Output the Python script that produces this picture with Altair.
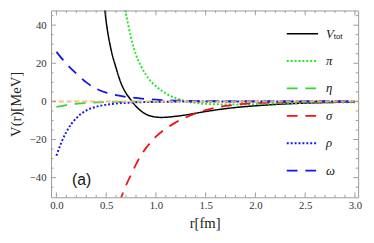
import altair as alt
import pandas as pd

# ---- data ----
r_tot = [0.45, 0.48, 0.5, 0.55, 0.6, 0.65, 0.7, 0.75, 0.8, 0.85, 0.9, 0.95, 1.0, 1.05,
         1.1, 1.2, 1.3, 1.4, 1.5, 1.6, 1.8, 2.0, 2.2, 2.4, 2.6, 2.8, 3.0]
v_tot = [62, 51, 42, 27, 17.5, 9.5, 4.3, 0.7, -2.6, -5.0, -6.7, -7.7, -8.2, -8.4,
         -8.3, -7.8, -7.1, -6.2, -5.3, -4.5, -3.2, -2.3, -1.6, -1.1, -0.75, -0.5, -0.35]

r_pi = [0.65, 0.68, 0.7, 0.75, 0.8, 0.85, 0.9, 0.95, 1.0, 1.05, 1.1, 1.15, 1.2, 1.25,
        1.3, 1.4, 1.5, 1.6, 1.7, 1.8, 2.0, 2.2, 2.5, 2.8, 3.0]
v_pi = [58, 50, 45.5, 33.5, 24.5, 18.5, 14, 10.5, 8, 5.9, 4.2, 2.8, 1.7, 0.8,
        0.1, -0.8, -1.3, -1.5, -1.6, -1.6, -1.4, -1.1, -0.75, -0.5, -0.4]

r_eta = [0, 0.1, 0.2, 0.3, 0.4, 0.5, 0.6, 0.8, 1.0, 1.3, 1.6, 2.0, 2.5, 3.0]
v_eta = [-2.9, -1.9, -1.25, -0.85, -0.55, -0.38, -0.26, -0.13, -0.07, -0.03, -0.01, 0, 0, 0]

r_sigma = [0.63, 0.65, 0.7, 0.75, 0.8, 0.85, 0.9, 0.95, 1.0, 1.1, 1.2, 1.3, 1.4, 1.5,
           1.6, 1.7, 1.8, 2.0, 2.2, 2.5, 2.8, 3.0]
v_sigma = [-53, -50.5, -44, -38.5, -33, -28.3, -24.5, -21.3, -18.5, -14.3, -11.0, -8.4, -6.3, -4.6,
           -3.3, -2.4, -1.7, -0.9, -0.5, -0.2, -0.1, -0.05]

r_rho = [0, 0.05, 0.1, 0.15, 0.2, 0.25, 0.3, 0.4, 0.5, 0.6, 0.7, 0.8, 1.0, 1.2, 1.5, 2.0, 2.5, 3.0]
v_rho = [-28.5, -21.5, -16, -11.8, -8.8, -6.4, -4.8, -2.8, -1.75, -1.1, -0.75, -0.5, -0.25, -0.12,
         -0.05, 0, 0, 0]

r_omega = [0, 0.1, 0.2, 0.3, 0.4, 0.5, 0.6, 0.7, 0.8, 1.0, 1.2, 1.5, 2.0, 2.5, 3.0]
v_omega = [26, 19.8, 14.6, 10.0, 6.7, 4.6, 3.3, 2.4, 1.8, 0.9, 0.45, 0.15, 0.03, 0, 0]

r_zero = [-0.054, 3.033]
v_zero = [0, 0]

x_major = [0.0, 0.5, 1.0, 1.5, 2.0, 2.5, 3.0]
x_minor = [i / 10 for i in range(0, 31) if i % 5 != 0]
y_major = [-40, -20, 0, 20, 40]
y_minor = [-45, -35, -30, -25, -15, -10, -5, 5, 10, 15, 25, 30, 35, 45]

legend_labels = ["V", "π", "η", "σ", "ρ", "ω"]

# ---- layout ----
W, H = 314, 191
xs = alt.Scale(domain=[-0.054, 3.033], nice=False, zero=False)
ys = alt.Scale(domain=[-50.3, 47.7], nice=False, zero=False)
FRAME = "#9a9a9a"
SERIF = "Liberation Serif, Times New Roman, serif"

xaxis = alt.Axis(values=x_major, format=".1f", ticks=False, domain=False, grid=False,
                 labelFont=SERIF, labelFontSize=11, labelColor="#333333", labelPadding=2,
                 labelOverlap=False, labelFlush=False,
                 title="r[fm]", titleFont=SERIF, titleFontSize=15, titleFontWeight="normal",
                 titleColor="#222222", titlePadding=6)
yaxis = alt.Axis(values=y_major, format="d", ticks=False, domain=False, grid=False,
                 labelFont=SERIF, labelFontSize=11, labelColor="#333333", labelPadding=5,
                 title="V(r)[MeV]", titleFont=SERIF, titleFontSize=15, titleFontWeight="normal",
                 titleColor="#222222", titlePadding=6)

X = alt.X("r:Q", scale=xs, axis=xaxis)
Y = alt.Y("v:Q", scale=ys, axis=yaxis)

styles = [
    (r_tot, v_tot, "#000000", [1, 0], 1.5),
    (r_pi, v_pi, "#22e622", [2, 2], 2.0),
    (r_eta, v_eta, "#33d633", [11, 8], 1.8),
    (r_sigma, v_sigma, "#f01414", [11, 8], 1.8),
    (r_rho, v_rho, "#1414f0", [2, 2], 2.0),
    (r_omega, v_omega, "#1414f0", [11, 8], 1.8),
]

layers = []
for rr, vv, col, dash, sw in styles:
    df = pd.DataFrame({"r": rr, "v": vv})
    layers.append(
        alt.Chart(df).mark_line(color=col, strokeDash=dash, strokeWidth=sw, clip=True,
                                interpolate="monotone").encode(x=X, y=Y)
    )

layers.append(
    alt.Chart(pd.DataFrame({"r": r_zero, "v": v_zero})).mark_line(
        color="#f5b27a", strokeDash=[5, 3], strokeWidth=2, opacity=0.9, clip=True
    ).encode(x=X, y=Y)
)

# inward frame ticks
for vals, ln in [(x_major, 5), (x_minor, 2.5)]:
    d = pd.DataFrame({"r": vals})
    layers.append(alt.Chart(d).mark_rule(color=FRAME, strokeWidth=1).encode(
        x=X, y=alt.value(H), y2=alt.value(H - ln)))
    layers.append(alt.Chart(d).mark_rule(color=FRAME, strokeWidth=1).encode(
        x=X, y=alt.value(0), y2=alt.value(ln)))
for vals, ln in [(y_major, 5), (y_minor, 2.5)]:
    d = pd.DataFrame({"v": vals})
    layers.append(alt.Chart(d).mark_rule(color=FRAME, strokeWidth=1).encode(
        y=Y, x=alt.value(0), x2=alt.value(ln)))
    layers.append(alt.Chart(d).mark_rule(color=FRAME, strokeWidth=1).encode(
        y=Y, x=alt.value(W), x2=alt.value(W - ln)))

# panel label
layers.append(alt.Chart(pd.DataFrame({"r": [0.254], "v": [-41.4], "t": ["(a)"]})).mark_text(
    font="Liberation Sans", fontSize=16, color="#111111").encode(x=X, y=Y, text="t:N"))

# manual legend
one = pd.DataFrame({"a": [0]})
row0, step = 31.7 - 8, 28.0
for i, (lab, st) in enumerate(zip(legend_labels, styles)):
    yy = row0 + i * step
    _, _, col, dash, sw = st
    layers.append(alt.Chart(one).mark_rule(color=col, strokeDash=dash, strokeWidth=sw).encode(
        x=alt.value(293 - 52), x2=alt.value(325 - 52), y=alt.value(yy)))
    layers.append(alt.Chart(one).mark_text(align="left", baseline="middle", font=SERIF,
                                           fontStyle="italic", fontSize=13, color="#111111").encode(
        x=alt.value(333 - 52), y=alt.value(yy), text=alt.value(lab)))
    if i == 0:
        layers.append(alt.Chart(one).mark_text(align="left", baseline="middle", font="Liberation Sans",
                                               fontSize=8, color="#111111").encode(
            x=alt.value(341 - 52), y=alt.value(yy + 3), text=alt.value("tot")))

chart = alt.layer(*layers).properties(
    width=W, height=H,
    autosize=alt.AutoSizeParams(type="none"),
    padding={"left": 44, "top": 0, "right": 8, "bottom": 36},
).configure_view(stroke=FRAME, strokeWidth=1)

chart.save("out.html", embed_options={"renderer": "svg", "actions": False})
